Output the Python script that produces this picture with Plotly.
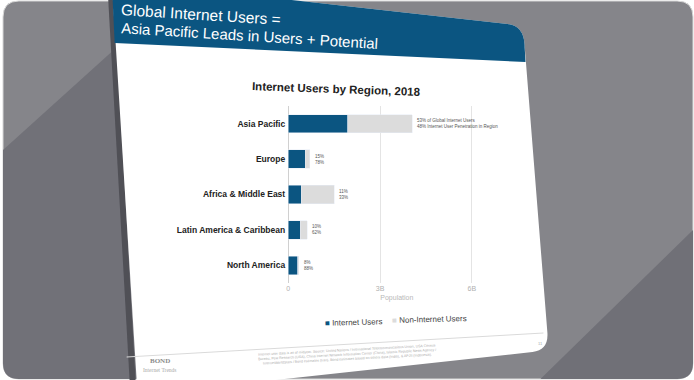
import plotly.graph_objects as go

# ---------------- data ----------------
regions = ["Asia Pacific", "Europe", "Africa & Middle East",
           "Latin America & Caribbean", "North America"]
internet_users = [1.95, 0.55, 0.42, 0.39, 0.31]          # billions
non_internet_users = [2.10, 0.16, 1.08, 0.24, 0.04]      # billions
share_of_global = ["53%", "15%", "11%", "10%", "8%"]
penetration = ["48%", "78%", "33%", "62%", "88%"]
series_names = ["Internet Users", "Non-Internet Users"]
x_tick_vals = [0, 3, 6]
x_tick_text = ["0", "3B", "6B"]

W, H = 694, 380


def P(x, y):
    return x / W, 1 - y / H


def path(cmds):
    out = []
    for c in cmds:
        if isinstance(c, str):
            out.append(c)
        else:
            px_, py_ = P(*c)
            out.append(f"{px_:.5f},{py_:.5f}")
    return " ".join(out)


BLUE = "#0b5581"
GREY = "#dcdcdc"

fig = go.Figure()
fig.add_trace(go.Bar(y=regions, x=internet_users, orientation="h",
                     name=series_names[0], marker_color=BLUE, width=0.52, showlegend=False))
fig.add_trace(go.Bar(y=regions, x=non_internet_users, orientation="h",
                     name=series_names[1], marker_color=GREY, width=0.52, showlegend=False))

shapes = []
r = 16
shapes.append(dict(type="path", xref="paper", yref="paper", layer="below",
                   path=path(["M", (1 + r, 1), "L", (693 - r, 1), "Q", (693, 1), (693, 1 + r),
                              "L", (693, 379 - r), "Q", (693, 379), (693 - r, 379),
                              "L", (1 + r, 379), "Q", (1, 379), (1, 379 - r),
                              "L", (1, 1 + r), "Q", (1, 1), (1 + r, 1), "Z"]),
                   fillcolor="#85858a", line=dict(color="#d8d8d8", width=1)))
shapes.append(dict(type="path", xref="paper", yref="paper", layer="below",
                   path=path(["M", (1, 150), "L", (112, 50), "L", (135, 379), "L", (17, 379),
                              "Q", (1, 379), (1, 363), "Z"]),
                   fillcolor="#717178", line=dict(width=0)))
shapes.append(dict(type="path", xref="paper", yref="paper", layer="below",
                   path=path(["M", (540, 379), "L", (693, 230), "L", (693, 363),
                              "Q", (693, 379), (677, 379), "Z"]),
                   fillcolor="#707077", line=dict(width=0)))
shapes.append(dict(type="path", xref="paper", yref="paper", layer="below",
                   path=path(["M", (106, -10), "L", (112, -10), "L", (134, 381), "L", (128, 381), "Z"]),
                   fillcolor="#505056", line=dict(width=0)))
shapes.append(dict(type="path", xref="paper", yref="paper", layer="below",
                   path=path(["M", (110, -20), "L", (507, 24), "Q", (523, 26), (524, 44),
                              "L", (547, 333), "Q", (548, 350), (532, 352),
                              "L", (136, 395), "Z"]),
                   fillcolor="#ffffff", line=dict(width=0)))
shapes.append(dict(type="path", xref="paper", yref="paper", layer="below",
                   path=path(["M", (110, -20), "L", (507, 24), "Q", (523, 26), (524, 44),
                              "L", (525, 62), "L", (113, 43), "Z"]),
                   fillcolor=BLUE, line=dict(width=0)))
shapes.append(dict(type="line", xref="paper", yref="paper", layer="below",
                   x0=P(125, 357)[0], y0=P(125, 357)[1], x1=P(543, 333)[0], y1=P(543, 333)[1],
                   line=dict(color="#dadada", width=1)))

annotations = []
annotations.append(dict(xref="paper", yref="paper", x=P(117, 14)[0], y=P(117, 14)[1],
                        text="Global Internet Users =", showarrow=False, textangle=3.5,
                        xanchor="left", yanchor="middle",
                        font=dict(family="Liberation Sans, Arial", size=15.5, color="white")))
annotations.append(dict(xref="paper", yref="paper", x=P(117, 36)[0], y=P(117, 36)[1],
                        text="Asia Pacific Leads in Users + Potential", showarrow=False, textangle=3.5,
                        xanchor="left", yanchor="middle",
                        font=dict(family="Liberation Sans, Arial", size=15, color="white")))
annotations.append(dict(xref="paper", yref="paper", x=P(335, 89)[0], y=P(335, 89)[1],
                        text="<b>Internet Users by Region, 2018</b>", showarrow=False, textangle=2,
                        xanchor="center", yanchor="middle",
                        font=dict(family="Liberation Sans, Arial", size=11.5, color="#222222")))
for i, reg in enumerate(regions):
    total = internet_users[i] + non_internet_users[i]
    if i == 0:
        txt = (f"{share_of_global[i]} of Global Internet Users<br>"
               f"{penetration[i]} Internet User Penetration in Region")
    else:
        txt = f"{share_of_global[i]}<br>{penetration[i]}"
    annotations.append(dict(x=total, y=reg, xref="x", yref="y", text=txt, showarrow=False,
                            xanchor="left", yanchor="middle", xshift=3, align="left",
                            font=dict(family="Liberation Sans, Arial", size=4.5, color="#555555")))
# compact legend
annotations.append(dict(xref="paper", yref="paper", x=P(322, 322)[0], y=P(322, 322)[1],
                        text=f"<span style='color:{BLUE}'>■</span> {series_names[0]}",
                        showarrow=False, xanchor="left", yanchor="middle", textangle=-1.5,
                        font=dict(family="Liberation Sans, Arial", size=8, color="#444444")))
annotations.append(dict(xref="paper", yref="paper", x=P(389, 319)[0], y=P(389, 319)[1],
                        text=f"<span style='color:{GREY}'>■</span> {series_names[1]}",
                        showarrow=False, xanchor="left", yanchor="middle", textangle=-1.5,
                        font=dict(family="Liberation Sans, Arial", size=8, color="#444444")))
annotations.append(dict(xref="paper", yref="paper", x=P(158, 361)[0], y=P(158, 361)[1],
                        text="<b>BOND</b>", showarrow=False, xanchor="center", yanchor="middle",
                        font=dict(family="Liberation Serif, serif", size=7, color="#8a8a8a")))
annotations.append(dict(xref="paper", yref="paper", x=P(158, 370)[0], y=P(158, 370)[1],
                        text="Internet Trends", showarrow=False, xanchor="center", yanchor="middle",
                        font=dict(family="Liberation Serif, serif", size=5.5, color="#aaaaaa")))
annotations.append(dict(xref="paper", yref="paper", x=P(346, 354)[0], y=P(346, 354)[1],
                        text=("Internet user data is as of midyear. Source: United Nations / International Telecommunications Union, USA Census<br>"
                              "Bureau, Pew Research (USA), China Internet Network Information Center (China), Islamic Republic News Agency /<br>"
                              "InternetWorldStats / Bond estimates (Iran), Bond estimates based on others data (India), & APJII (Indonesia)."),
                        showarrow=False, xanchor="center", yanchor="middle", textangle=-3,
                        font=dict(family="Liberation Sans, Arial", size=3.5, color="#aaaaaa")))
annotations.append(dict(xref="paper", yref="paper", x=P(540, 343)[0], y=P(540, 343)[1],
                        text="11", showarrow=False, xanchor="center", yanchor="middle",
                        font=dict(family="Liberation Sans, Arial", size=4, color="#aaaaaa")))

fig.update_layout(
    width=W, height=H, autosize=False,
    margin=dict(l=0, r=0, t=0, b=0),
    paper_bgcolor="white", plot_bgcolor="rgba(0,0,0,0)",
    barmode="stack", bargap=0.48, showlegend=False,
    shapes=shapes, annotations=annotations,
    font=dict(family="Liberation Sans, Arial"),
    xaxis=dict(domain=[287 / W, 505 / W], range=[0, 7.1],
               tickvals=x_tick_vals, ticktext=x_tick_text,
               showgrid=True, gridcolor="#e4e4e4", gridwidth=1,
               zeroline=True, zerolinecolor="#d0d0d0", zerolinewidth=1,
               tickfont=dict(size=7, color="#b0b0b0"), ticklen=0,
               title=dict(text="Population", font=dict(size=7, color="#b8b8b8"), standoff=4)),
    yaxis=dict(domain=[1 - 283 / H, 1 - 106 / H], autorange="reversed",
               tickfont=dict(size=8.5, color="#222222", weight="bold"),
               ticks="", ticklabelstandoff=2, showgrid=False),
)

fig.write_html("out.html", config={"displayModeBar": False},
               post_script="document.body.style.margin='0';document.body.style.overflow='hidden';")
